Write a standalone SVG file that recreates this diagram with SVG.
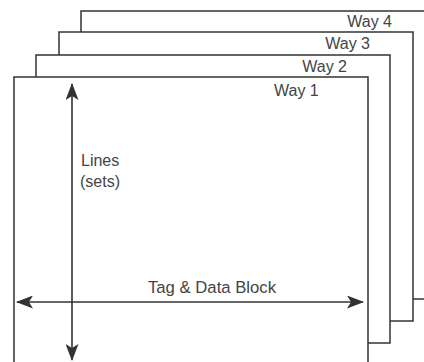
<svg xmlns="http://www.w3.org/2000/svg" width="424" height="362" viewBox="0 0 424 362">
<style>
.box{fill:#fff;stroke:#333;stroke-width:1.5}
.lbl{font-family:"Liberation Sans",Arial,sans-serif;font-size:16px;fill:#444}
.conn{stroke:#333;stroke-width:1.6;fill:none}
</style>
<defs>
<marker id="ah" viewBox="0 0 17 13" refX="16" refY="6.5" markerWidth="17" markerHeight="13" markerUnits="userSpaceOnUse" orient="auto-start-reverse">
<path d="M0,0 L17,6.5 L0,13 L4,6.5 Z" fill="#333"/>
</marker>
</defs>
<rect width="424" height="362" fill="#fff"/>
<g id="way4"><rect class="box" x="81" y="11" width="360" height="288"/><text class="lbl" x="392" y="27" text-anchor="end">Way 4</text></g>
<g id="way3"><rect class="box" x="59" y="32" width="354" height="289"/><text class="lbl" x="370" y="49" text-anchor="end">Way 3</text></g>
<g id="way2"><rect class="box" x="36" y="55" width="354" height="288"/><text class="lbl" x="347" y="72" text-anchor="end">Way 2</text></g>
<g id="way1"><rect class="box" x="14" y="77" width="354" height="300"/><text class="lbl" x="274" y="96">Way 1</text>
<text class="lbl" x="81" y="166">Lines</text><text class="lbl" x="80" y="187">(sets)</text>
<text class="lbl" x="148" y="293" style="font-size:16.7px">Tag &amp; Data Block</text></g>
<g id="connectors">
<line class="conn" x1="72" y1="84" x2="72" y2="360" marker-start="url(#ah)" marker-end="url(#ah)"/>
<line class="conn" x1="17" y1="302" x2="363" y2="302" marker-start="url(#ah)" marker-end="url(#ah)"/>
</g>
</svg>
